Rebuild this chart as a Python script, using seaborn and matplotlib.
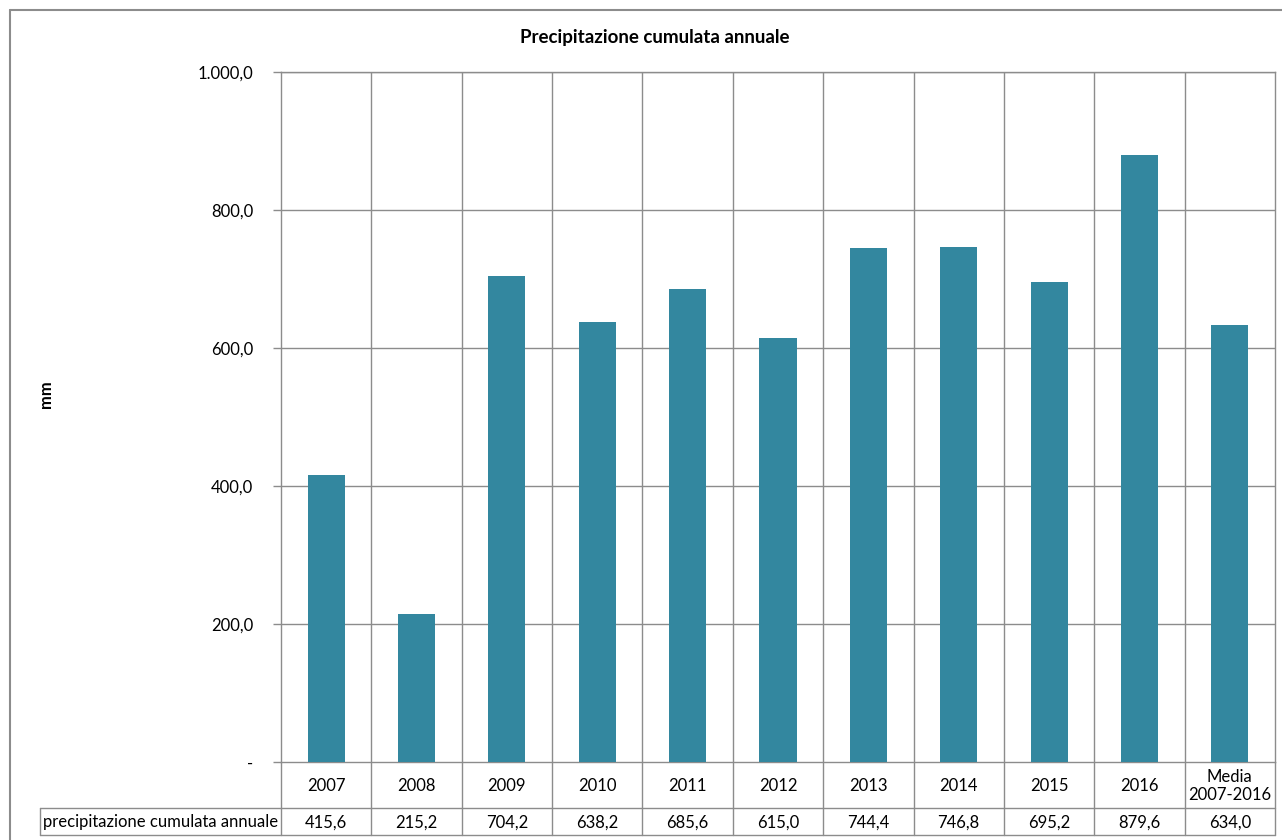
import matplotlib
matplotlib.use("Agg")
import matplotlib.pyplot as plt
import seaborn as sns
import pandas as pd

# Annual cumulative precipitation (mm)
categories = ["2007", "2008", "2009", "2010", "2011", "2012", "2013",
              "2014", "2015", "2016", "Media\n2007-2016"]
values = [415.6, 215.2, 704.2, 638.2, 685.6, 615.0, 744.4, 746.8,
          695.2, 879.6, 634.0]
y_ticks = [0, 200, 400, 600, 800, 1000]
y_tick_labels = ["-", "200,0", "400,0", "600,0", "800,0", "1.000,0"]
series_name = "precipitazione cumulata annuale"
title = "Precipitazione cumulata annuale"
y_label = "mm"

sns.set_theme(style="white")
plt.rcParams["font.family"] = ["Lato", "DejaVu Sans"]

W, H = 1282, 840
BAR_COLOR = "#33879F"
GRID = "#8C8C8C"
FS = 12

fig = plt.figure(figsize=(W / 100, H / 100), dpi=100)
fig.patch.set_facecolor("white")

# plot area in pixel coordinates
x0, x1, ytop, ybot = 281, 1275, 72, 762
ax = fig.add_axes([x0 / W, 1 - ybot / H, (x1 - x0) / W, (ybot - ytop) / H])

df = pd.DataFrame({"cat": categories, "val": values})
sns.barplot(data=df, x="cat", y="val", color=BAR_COLOR, saturation=1,
            width=0.41, linewidth=0, ax=ax, zorder=3)

n = len(categories)
ax.set_xlim(-0.5, n - 0.5)
ax.set_ylim(0, 1000)
ax.set_yticks(y_ticks)
ax.set_yticklabels(y_tick_labels, fontsize=FS, color="black")
ax.set_xticks([])
ax.set_xlabel("")
ax.set_ylabel("")
ax.tick_params(axis="y", which="major", length=6, width=1, color=GRID,
               left=True, pad=14)
for y in y_ticks[1:]:
    ax.axhline(y, color=GRID, lw=1, zorder=1)
for k in range(n - 1):
    ax.axvline(k + 0.5, color=GRID, lw=1, zorder=1)
for side, sp in ax.spines.items():
    sp.set_visible(True)
    sp.set_color(GRID)
    sp.set_linewidth(1)

# data table under the plot area, drawn in pixel space
def px(x, y):
    return x / W, 1 - y / H

row1_bot = 808
row2_bot = 835
table_left = 40
col_w = (x1 - x0) / n
line_kw = dict(color=GRID, lw=1, transform=fig.transFigure, clip_on=False)

fig.add_artist(plt.Line2D(*zip(px(x0, ybot), px(x0, row2_bot)), **line_kw))
fig.add_artist(plt.Line2D(*zip(px(x1, ybot), px(x1, row2_bot)), **line_kw))
for k in range(1, n):
    xx = x0 + k * col_w
    fig.add_artist(plt.Line2D(*zip(px(xx, ybot), px(xx, row2_bot)), **line_kw))
fig.add_artist(plt.Line2D(*zip(px(table_left, row1_bot), px(x1, row1_bot)), **line_kw))
fig.add_artist(plt.Line2D(*zip(px(table_left, row2_bot), px(x1, row2_bot)), **line_kw))
fig.add_artist(plt.Line2D(*zip(px(table_left, row1_bot), px(table_left, row2_bot)), **line_kw))

for k, (c, v) in enumerate(zip(categories, values)):
    cx = x0 + (k + 0.5) * col_w
    fig.text(*px(cx, (ybot + row1_bot) / 2 + 1), c, ha="center", va="center",
             fontsize=FS, color="black", linespacing=1.1)
    fig.text(*px(cx, (row1_bot + row2_bot) / 2 + 1),
             f"{v:.1f}".replace(".", ","), ha="center", va="center",
             fontsize=FS, color="black")
fig.text(*px(table_left + 3, (row1_bot + row2_bot) / 2 + 1), series_name,
         ha="left", va="center", fontsize=FS, color="black")

# title and axis label
fig.text(*px(655, 38), title, ha="center", va="center", fontsize=13.5,
         fontweight="bold", color="black")
fig.text(*px(46, 394), y_label, ha="center", va="center", fontsize=FS,
         fontweight="bold", rotation=90, color="black")

# chart outer border
fig.add_artist(plt.Line2D(*zip(px(10, 10), px(W, 10)), color="#8C8C8C", lw=1.5,
                          transform=fig.transFigure))
fig.add_artist(plt.Line2D(*zip(px(10, 10), px(10, H)), color="#8C8C8C", lw=1.5,
                          transform=fig.transFigure))

fig.savefig("out.png", dpi=100, facecolor="white")
